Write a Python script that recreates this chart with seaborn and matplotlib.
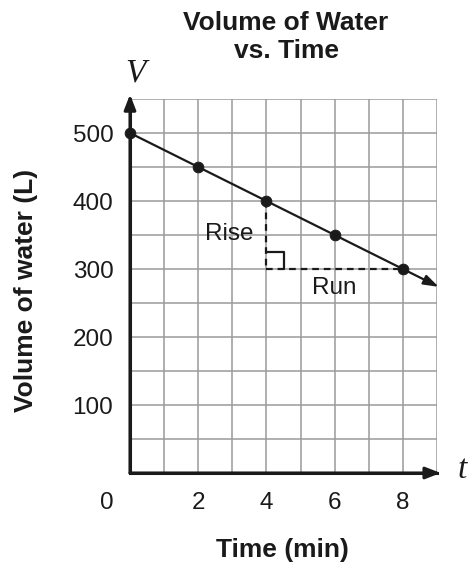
import numpy as np
import pandas as pd
import matplotlib
import matplotlib.pyplot as plt
import seaborn as sns

matplotlib.use('Agg')

# data
time_min = [0, 2, 4, 6, 8]
volume_l = [500, 450, 400, 350, 300]
x_ticks = [2, 4, 6, 8]
y_ticks = [100, 200, 300, 400, 500]

sns.set_style("white")
plt.rcParams['font.family'] = ['Liberation Sans', 'DejaVu Sans']
ink = '#1a1a1a'

df = pd.DataFrame({'t': time_min, 'V': volume_l})

fig = plt.figure(figsize=(4.69, 5.68), dpi=100)
ax = fig.add_axes([130 / 469, 95 / 568, 307 / 469, 374 / 568])
ax.set_xlim(0, 9)
ax.set_ylim(0, 550)

# grid
ax.set_xticks(np.arange(0, 10, 1), minor=True)
ax.set_yticks(np.arange(0, 551, 50), minor=True)
ax.grid(which='both', color='#9a9a9a', linewidth=1.1)
ax.set_axisbelow(True)

# line extended to the edge with an arrow
slope = (volume_l[-1] - volume_l[0]) / (time_min[-1] - time_min[0])
t_end = 9.05
ax.annotate('', xy=(t_end, volume_l[0] + slope * t_end), xytext=(time_min[0], volume_l[0]),
            arrowprops=dict(arrowstyle='-|>,head_length=0.9,head_width=0.3', color=ink,
                            lw=1.6, shrinkA=0, shrinkB=0), annotation_clip=False)
sns.scatterplot(data=df, x='t', y='V', color=ink, s=60, edgecolor=ink,
                ax=ax, zorder=5, clip_on=False)

# rise / run
ax.plot([time_min[2], time_min[2]], [volume_l[2], volume_l[4]], color=ink,
        lw=1.6, ls=(0, (3, 2.2)))
ax.plot([time_min[2], time_min[4]], [volume_l[4], volume_l[4]], color=ink,
        lw=1.6, ls=(0, (3, 2.2)))
ax.plot([time_min[2], time_min[2] + 0.5, time_min[2] + 0.5],
        [volume_l[4] + 25, volume_l[4] + 25, volume_l[4]], color=ink, lw=1.6)
ax.text(2.92, 352, 'Rise', fontsize=17.5, ha='center', va='center', color=ink)
ax.text(6.0, 272, 'Run', fontsize=17.5, ha='center', va='center', color=ink)

# axes
for s in ['top', 'right']:
    ax.spines[s].set_visible(False)
for s in ['left', 'bottom']:
    ax.spines[s].set_linewidth(2.2)
    ax.spines[s].set_color(ink)
ax.annotate('', xy=(1.012, 0), xytext=(0, 0), xycoords='axes fraction',
            arrowprops=dict(arrowstyle='-|>,head_length=0.9,head_width=0.35', color=ink,
                            lw=2.2, shrinkA=0, shrinkB=0), annotation_clip=False)
ax.annotate('', xy=(0, 1.012), xytext=(0, 0), xycoords='axes fraction',
            arrowprops=dict(arrowstyle='-|>,head_length=0.9,head_width=0.35', color=ink,
                            lw=2.2, shrinkA=0, shrinkB=0), annotation_clip=False)

ax.set_xticks(x_ticks)
ax.set_yticks(y_ticks)
ax.tick_params(which='major', direction='out', length=5, width=1.2, color=ink,
               labelsize=17.5, labelcolor=ink)
ax.tick_params(axis='x', which='major', pad=9)
ax.tick_params(axis='y', which='major', pad=7)
ax.tick_params(which='minor', length=0)
ax.text((107 - 130) / 307, (473 - 503) / 374, '0', transform=ax.transAxes, fontsize=17.5,
        ha='center', va='center', color=ink)

ax.text((135 - 130) / 307, (473 - 73) / 374, 'V', transform=ax.transAxes, fontsize=24,
        ha='center', va='center', family='Liberation Serif', style='italic', color=ink)
ax.text((462 - 130) / 307, (473 - 470) / 374, 't', transform=ax.transAxes, fontsize=24,
        ha='center', va='center', family='Liberation Serif', style='italic', color=ink)

ax.set_xlabel('Time (min)', fontsize=19, fontweight='bold', color=ink)
ax.xaxis.label.set_va('center')
ax.xaxis.set_label_coords((282 - 130) / 307, (473 - 550) / 374)
ax.set_ylabel('Volume of water (L)', fontsize=19, fontweight='bold', color=ink)
ax.yaxis.label.set_va('center')
ax.yaxis.set_label_coords((26 - 130) / 307, (473 - 290) / 374)
fig.text(286 / 469, 1 - 37 / 568, 'Volume of Water\nvs. Time', fontsize=19,
         fontweight='bold', ha='center', va='center', linespacing=1.25, color=ink)

fig.savefig('out.png', dpi=100)
